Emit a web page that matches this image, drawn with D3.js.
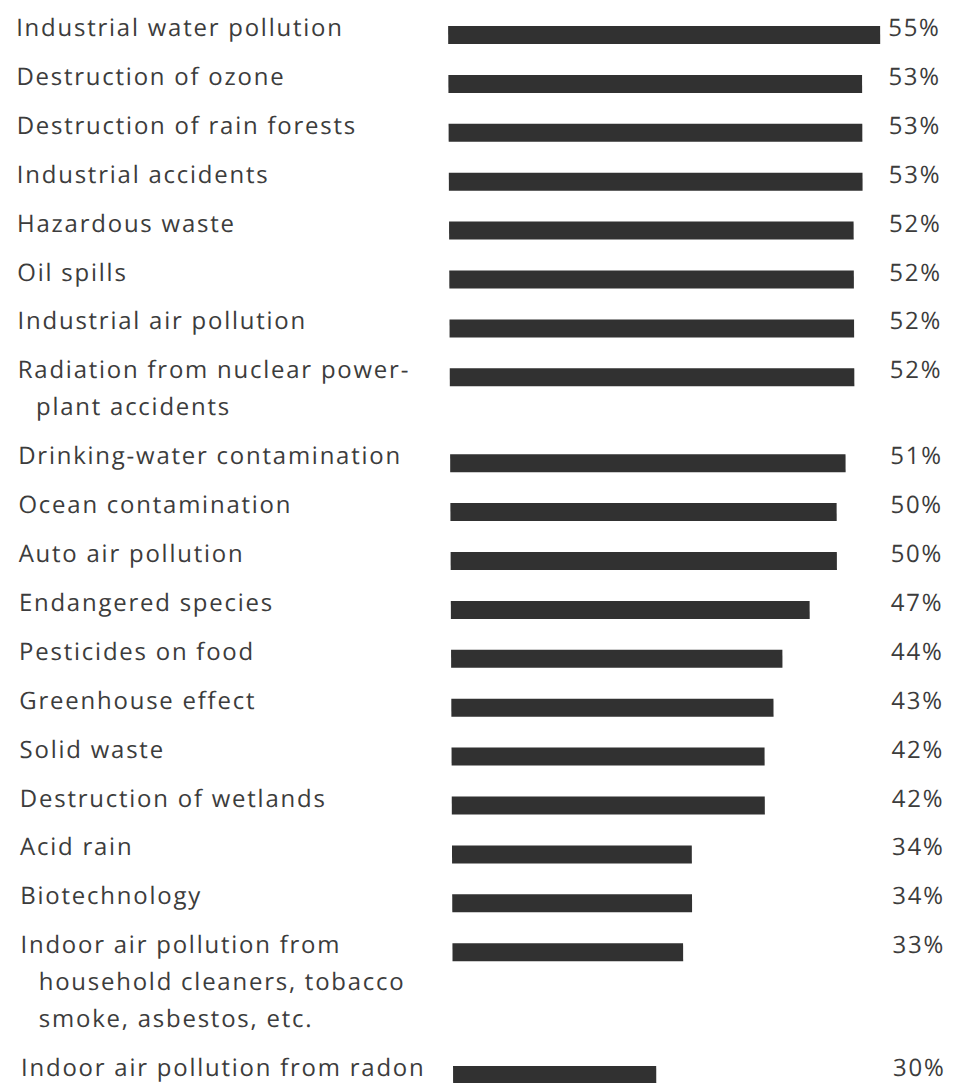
<!DOCTYPE html>
<html>
<head>
<meta charset="utf-8">
<script src="https://cdn.jsdelivr.net/npm/d3@7"></script>
<style>
    html, body { margin: 0; padding: 0; background: #fff; }
    svg { display: block; }
    text { font-family: "Open Sans", "Noto Sans", sans-serif; font-size: 24px; font-weight: 500; letter-spacing: 1.75px; fill: #3c3c3c; }
</style>
</head>
<body>
<div id="chart"></div>
<script>
/* Chart values, top to bottom. Line breaks mark wrapped labels. */
const categories = [
    'Industrial water pollution',
    'Destruction of ozone',
    'Destruction of rain forests',
    'Industrial accidents',
    'Hazardous waste',
    'Oil spills',
    'Industrial air pollution',
    'Radiation from nuclear power-\nplant accidents',
    'Drinking-water contamination',
    'Ocean contamination',
    'Auto air pollution',
    'Endangered species',
    'Pesticides on food',
    'Greenhouse effect',
    'Solid waste',
    'Destruction of wetlands',
    'Acid rain',
    'Biotechnology',
    'Indoor air pollution from\nhousehold cleaners, tobacco\nsmoke, asbestos, etc.',
    'Indoor air pollution from radon'
];
const values = [55, 53, 53, 53, 52, 52, 52, 52, 51, 50, 50, 47, 44, 43, 42, 42, 34, 34, 33, 30];

/* Layout values. */
const width = 962;
const height = 1083;
const firstBaseline = 36;
const rowGap = 48.9;
const lineGap = 37;
const barHeight = 18;

const rows = categories.map(function (c, i) {
    return {label: c.split('\n'), value: values[i]};
});

// Baseline of the first line of each row; wrapped rows push the next ones down.
let extra = 0;
rows.forEach(function (d, i) {
    d.y = firstBaseline + i * rowGap + extra * lineGap;
    extra += d.label.length - 1;
});

// Bars in the source do not start from zero.
const x = d3.scaleLinear().domain([7.8, 55]).range([448, 880]);

const svg = d3.select('#chart').append('svg')
    .attr('width', width)
    .attr('height', height);

// Slight lean of the scanned page.
const g = svg.append('g').attr('transform', 'skewX(0.27)');

const row = g.selectAll('g.row')
    .data(rows)
    .enter()
    .append('g')
    .attr('class', 'row')
    .attr('transform', function (d) {
        return 'translate(0,' + d.y + ')';
    });

// Category labels.
row.append('text')
    .selectAll('tspan')
    .data(function (d) { return d.label; })
    .enter()
    .append('tspan')
    .attr('x', function (d, i) { return i === 0 ? 16 : 34; })
    .attr('y', function (d, i) { return i * lineGap; })
    .text(function (d) { return d; });

// Bars.
row.append('rect')
    .attr('x', x(7.8))
    .attr('y', -barHeight / 2 - 1)
    .attr('width', function (d) { return x(d.value) - x(7.8); })
    .attr('height', barHeight)
    .attr('fill', '#313131');

// Value labels.
row.append('text')
    .attr('x', 888)
    .attr('y', 0)
    .text(function (d) { return d.value + '%'; });
</script>
</body>
</html>
